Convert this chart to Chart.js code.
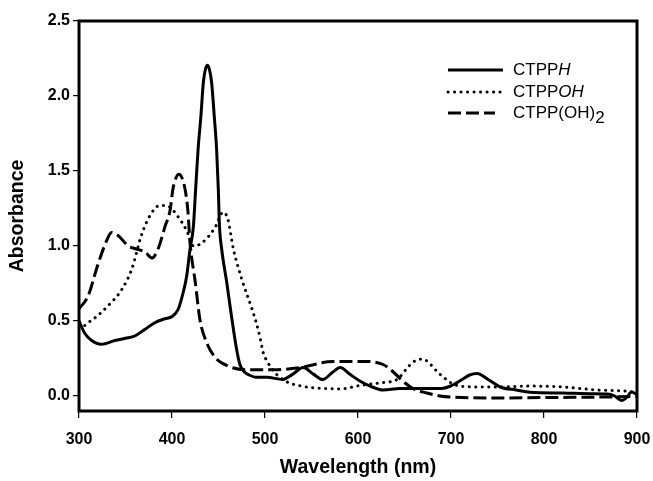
<!DOCTYPE html>
<html>
<head>
<meta charset="utf-8">
<script src="https://cdn.jsdelivr.net/npm/chart.js"></script>
<style>
  html, body { margin: 0; padding: 0; background: #fff; }
  #c { display: block; }
</style>
</head>
<body>
<canvas id="c" width="653" height="481"></canvas>
<script>
// ---- Data ----
const seriesNames = ["CTPPH", "CTPPOH", "CTPP(OH)2"];

const ctpphNm  = [300, 306, 313.6, 324, 338.7, 350, 360, 371, 382, 392.5, 400, 406.8, 412, 415.8, 419.4, 423, 425.4, 428, 431, 433.7, 436, 438.3, 440.5, 442.6, 445.5, 448, 449.8, 451, 453.4, 458.8, 464, 469.5, 473, 478, 483, 490, 502, 519, 530, 541, 552, 562, 573, 581, 591, 602, 613, 627, 645, 660, 690, 699, 712, 720, 728, 740, 753, 770, 785, 820, 850, 868, 876, 883.5, 889, 894, 900];
const ctpphAbs = [0.50, 0.42, 0.37, 0.345, 0.37, 0.385, 0.40, 0.445, 0.49, 0.515, 0.53, 0.58, 0.69, 0.80, 0.98, 1.13, 1.376, 1.64, 1.86, 2.09, 2.18, 2.205, 2.17, 2.09, 1.86, 1.64, 1.376, 1.14, 0.98, 0.76, 0.53, 0.31, 0.21, 0.16, 0.14, 0.125, 0.125, 0.11, 0.146, 0.19, 0.146, 0.11, 0.16, 0.19, 0.146, 0.10, 0.066, 0.04, 0.05, 0.05, 0.05, 0.065, 0.11, 0.14, 0.15, 0.11, 0.06, 0.04, 0.025, 0.02, 0.015, 0.013, 0.0, -0.03, -0.01, 0.027, 0.01];

const ctppohNm  = [300, 306, 310, 317, 331, 346, 357, 367, 378, 387, 396, 406, 416, 423, 432, 446, 455, 460, 466, 475, 486, 491, 495, 498, 502, 510, 517, 525, 545, 565, 581, 602, 627, 642, 652, 659, 668, 675, 681, 688, 695, 702, 717, 749, 785, 820, 857, 892, 900];
const ctppohAbs = [0.49, 0.47, 0.49, 0.52, 0.60, 0.71, 0.85, 1.07, 1.22, 1.27, 1.265, 1.20, 1.10, 1.00, 1.02, 1.12, 1.225, 1.18, 0.98, 0.78, 0.58, 0.48, 0.38, 0.29, 0.235, 0.16, 0.12, 0.09, 0.06, 0.05, 0.047, 0.07, 0.09, 0.11, 0.18, 0.225, 0.246, 0.23, 0.19, 0.146, 0.11, 0.08, 0.062, 0.06, 0.066, 0.06, 0.04, 0.03, 0.02];

const ctppoh2Nm  = [300, 310, 320, 330, 335, 342, 353, 362, 371, 378.5, 385, 392.5, 398, 401, 404, 407.5, 411, 414, 417, 419.4, 425, 430, 437, 446, 460, 482, 509, 538, 573, 609, 627, 638, 649, 659, 674, 688, 699, 749, 800, 850, 900];
const ctppoh2Abs = [0.58, 0.67, 0.87, 1.04, 1.09, 1.07, 1.00, 0.98, 0.96, 0.92, 0.98, 1.13, 1.24, 1.38, 1.45, 1.478, 1.45, 1.38, 1.24, 1.02, 0.76, 0.51, 0.36, 0.26, 0.20, 0.175, 0.175, 0.19, 0.23, 0.23, 0.21, 0.16, 0.095, 0.05, 0.02, 0.0, -0.007, -0.013, -0.01, -0.008, -0.003];

const xTicks = [300, 400, 500, 600, 700, 800, 900];
const yTicks = [0.0, 0.5, 1.0, 1.5, 2.0, 2.5];

// ---- Styles ----
const dashStyles = [[], [0.1, 6.4], [13, 5]];
const capStyles = ['butt', 'round', 'butt'];

function pts(xs, ys) { return xs.map((x, i) => ({ x: x, y: ys[i] })); }

const datasets = [
  { label: seriesNames[0], data: pts(ctpphNm, ctpphAbs) },
  { label: seriesNames[1], data: pts(ctppohNm, ctppohAbs) },
  { label: seriesNames[2], data: pts(ctppoh2Nm, ctppoh2Abs) }
].map((d, i) => Object.assign(d, {
  borderColor: '#000',
  backgroundColor: '#000',
  borderWidth: 3,
  borderDash: dashStyles[i],
  borderCapStyle: capStyles[i],
  pointRadius: 0,
  fill: false,
  cubicInterpolationMode: 'monotone'
}));

const framePlugin = {
  id: 'frame',
  afterDatasetsDraw(chart) {
    const { ctx, chartArea: a } = chart;
    ctx.save();
    ctx.strokeStyle = '#000';
    ctx.lineWidth = 3;
    ctx.setLineDash([]);
    ctx.strokeRect(a.left, a.top, a.right - a.left, a.bottom - a.top);
    ctx.restore();
  }
};

const legendPlugin = {
  id: 'customLegend',
  afterDraw(chart) {
    const ctx = chart.ctx;
    const rows = [70, 92, 113];
    const x0 = 448, x1 = 503, tx = 513;
    const fam = '"Liberation Sans", Arial, sans-serif';
    const parts = [
      [['CTPP', 'normal', 0], ['H', 'italic', 0]],
      [['CTPP', 'normal', 0], ['OH', 'italic', 0]],
      [['CTPP(OH)', 'normal', 0], ['2', 'normal', 5]]
    ];
    ctx.save();
    chart.data.datasets.forEach((ds, i) => {
      const y = rows[i];
      ctx.strokeStyle = '#000';
      ctx.lineWidth = 3;
      ctx.lineCap = capStyles[i];
      ctx.setLineDash(dashStyles[i]);
      ctx.beginPath();
      ctx.moveTo(x0, y);
      ctx.lineTo(i === 2 ? 495 : x1, y);
      ctx.stroke();
      ctx.setLineDash([]);
      ctx.fillStyle = '#000';
      ctx.textBaseline = 'middle';
      ctx.textAlign = 'left';
      let x = tx;
      parts[i].forEach(([t, style, dy]) => {
        ctx.font = style + ' 17px ' + fam;
        ctx.fillText(t, x, y + dy);
        x += ctx.measureText(t).width;
      });
    });
    ctx.restore();
  }
};

const tickFont = { family: '"Liberation Sans", Arial, sans-serif', size: 16, weight: 'bold' };
const titleFont = { family: '"Liberation Sans", Arial, sans-serif', size: 19.5, weight: 'bold' };

new Chart(document.getElementById('c'), {
  type: 'line',
  data: { datasets: datasets },
  options: {
    responsive: false,
    animation: false,
    devicePixelRatio: 1,
    layout: { padding: { left: 0, top: 21, right: 16, bottom: 0 } },
    plugins: { legend: { display: false }, tooltip: { enabled: false } },
    scales: {
      x: {
        type: 'linear',
        min: 300, max: 900,
        afterFit: s => { s.height = 70; s.paddingLeft = 0; s.paddingRight = 0; },
        afterBuildTicks: s => { s.ticks = xTicks.map(v => ({ value: v })); },
        border: { display: false },
        grid: { drawOnChartArea: false, drawTicks: true, tickLength: 7, color: '#000', lineWidth: 1.2 },
        ticks: { color: '#000', font: tickFont, padding: 12, maxRotation: 0, callback: v => String(v) },
        title: { display: true, text: 'Wavelength (nm)', color: '#000', font: titleFont, padding: { top: 0, bottom: 2 } }
      },
      y: {
        type: 'linear',
        min: -0.1, max: 2.5,
        afterFit: s => { s.width = 79; s.paddingTop = 0; s.paddingBottom = 0; },
        afterBuildTicks: s => { s.ticks = yTicks.map(v => ({ value: v })); },
        border: { display: false },
        grid: { drawOnChartArea: false, drawTicks: true, tickLength: 6, color: '#000', lineWidth: 1.2 },
        ticks: { color: '#000', font: tickFont, padding: 3, callback: v => Number(v).toFixed(1) },
        title: { display: true, text: 'Absorbance', color: '#000', font: titleFont, padding: { top: 6, bottom: 0 } }
      }
    }
  },
  plugins: [framePlugin, legendPlugin]
});
</script>
</body>
</html>
